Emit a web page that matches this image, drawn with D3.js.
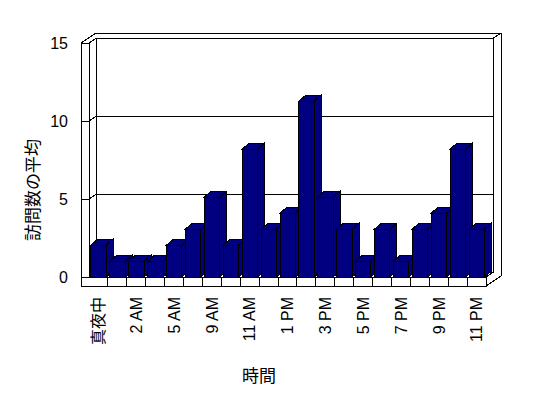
<!DOCTYPE html>
<html><head><meta charset="utf-8">
<script src="https://cdn.jsdelivr.net/npm/d3@7"></script>
<style>body{margin:0;background:#fff}svg{display:block}</style>
</head><body>
<script>
const categories = ["真夜中","1 AM","2 AM","3 AM","5 AM","7 AM","9 AM","10 AM","11 AM","12 PM","1 PM","2 PM","3 PM","4 PM","5 PM","6 PM","7 PM","8 PM","9 PM","10 PM","11 PM"];
const values = [2,1,1,1,2,3,5,2,8,3,4,11,5,3,1,3,1,3,4,8,3];
const yTicks = [0,5,10,15];
const yTitle = "訪問数の平均";
const xTitle = "時間";

const W = 548, H = 398;
const svg = d3.select("body").append("svg").attr("width", W).attr("height", H)
  .attr("shape-rendering","crispEdges");

const D = {x:7.5, y:-5};          // depth of plot / wall thickness
const BD = {x:7, y:-6};           // bar depth
const xL0 = 81, xP0 = 89, xP1 = 486, yFloorB = 286;
const x = d3.scaleBand().domain(categories).range([xP0, xP1]).padding(0);
const yF = d3.scaleLinear().domain([0,15]).range([277, 43]);   // front plane
const yB = v => yF(v) + D.y;                                    // back plane
const yBar = d3.scaleLinear().domain([0,15]).range([277, 37]);
const step = x.step();

const g = svg.append("g");
const line = (pts) => g.append("polyline").attr("points", pts.map(p=>p.join(",")).join(" "))
  .attr("fill","none").attr("stroke","#000").attr("stroke-width",1);

const xB0 = xP0 + D.x, xB1 = xP1 + D.x;
const yTopF = yF(15), yBaseF = yF(0);
// back wall back face
line([[xL0+2*D.x, yTopF+2*D.y],[xB1+D.x, yTopF+2*D.y],[xB1+D.x, yBaseF+2*D.y+9]]);
line([[xB1, yB(15)],[xB1+D.x, yB(15)+D.y]]);
// back wall front face
line([[xB0, yB(0)],[xB0, yB(15)],[xB1, yB(15)],[xB1, yB(0)],[xB0, yB(0)]]);
// gridlines
yTicks.filter(v=>v>0 && v<15).forEach(v=>{
  line([[xB0, yB(v)],[xB1, yB(v)]]);
  line([[xL0, yF(v)],[xP0, yF(v)],[xB0, yB(v)]]);
});
// left wall
line([[xL0, yFloorB],[xL0, yTopF],[xP0, yTopF],[xP0, yBaseF]]);
line([[xL0, yTopF],[xL0+2*D.x, yTopF+2*D.y]]);
line([[xP0, yTopF],[xB0, yB(15)]]);
line([[xP0, yBaseF],[xB0, yB(0)]]);
// floor
g.append("rect").attr("x", xL0).attr("y", yBaseF).attr("width", xP1-xL0).attr("height", yFloorB-yBaseF)
  .attr("fill","#fff").attr("stroke","#000");
line([[xP1, yBaseF],[xB1, yB(0)]]);
line([[xP1, yFloorB],[xP1+D.x, yFloorB+D.y],[xP1+2*D.x, yFloorB+2*D.y]]);
categories.slice(1).forEach(c=>{
  line([[x(c), yBaseF],[x(c), yFloorB]]);
});

// bars
const bw = step*0.81, boff = step*0.105;
categories.forEach((c,i)=>{
  const v = values[i];
  const bx = x(c)+boff, yt = yBar(v), yb = yBar(0);
  const bg = g.append("g").attr("fill","#000080").attr("stroke","#000").attr("stroke-linejoin","miter");
  bg.append("polygon").attr("points",[[bx+bw,yt],[bx+bw+BD.x,yt+BD.y],[bx+bw+BD.x,yb+BD.y],[bx+bw,yb]].map(p=>p.join(",")).join(" "));
  bg.append("polygon").attr("points",[[bx,yt],[bx+BD.x,yt+BD.y],[bx+bw+BD.x,yt+BD.y],[bx+bw,yt]].map(p=>p.join(",")).join(" "));
  bg.append("rect").attr("x",bx).attr("y",yt).attr("width",bw).attr("height",yb-yt);
});

// y tick labels
svg.append("g").selectAll("text").data(yTicks).join("text")
  .attr("x", 68).attr("y", d=>yF(d)).attr("dy","0.36em").attr("text-anchor","end")
  .attr("font-family","'Liberation Sans', Arial, sans-serif").attr("font-size",16).text(d=>d);

// x tick labels
svg.append("g").selectAll("text").data(categories.filter((c,i)=>i%2===0)).join("text")
  .attr("transform", d=>`translate(${x(d)+step/2},297) rotate(-90)`)
  .attr("dy","0.36em").attr("text-anchor","end")
  .attr("font-family","'Liberation Sans', 'Noto Sans CJK JP', sans-serif").attr("font-size",16).text(d=>d);

// titles
svg.append("text").attr("transform","translate(33,190) rotate(-90)").attr("dy","0.36em")
  .attr("text-anchor","middle").attr("font-family","'Noto Sans CJK JP', sans-serif").attr("font-size",17).text(yTitle);
svg.append("text").attr("x",259).attr("y",376).attr("dy","0.36em")
  .attr("text-anchor","middle").attr("font-family","'Noto Sans CJK JP', sans-serif").attr("font-size",17).text(xTitle);
</script>
</body></html>
